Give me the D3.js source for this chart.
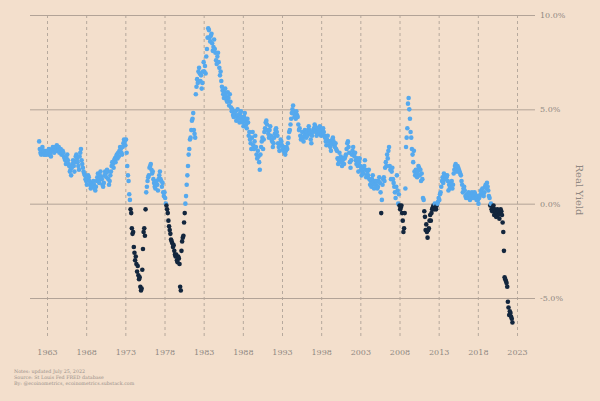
<!DOCTYPE html>
<html><head><meta charset="utf-8">
<script src="https://cdn.jsdelivr.net/npm/d3@7"></script>
<style>body{margin:0;background:#f3dfcc}svg{display:block}</style>
</head><body>
<svg id="c" width="600" height="401"></svg>
<script>
const startYear = 1962;
const monthly = [
"3.3,2.9,2.7,2.6,2.8,3.0,2.7,2.6,2.8,2.6,2.7,2.6",
"2.7,2.8,2.6,2.9,2.7,2.6,2.5,2.8,2.9,3.0,2.8,2.7",
"2.9,3.0,2.8,3.1,2.9,2.8,3.0,2.7,2.8,2.9,2.6,2.7",
"2.8,2.7,2.5,2.4,2.3,2.1,2.4,2.6,2.3,2.1,2.0,1.7",
"1.8,1.5,1.9,2.1,2.3,2.0,1.7,2.2,2.5,2.6,2.4,2.2",
"2.0,1.8,2.5,2.7,2.9,2.3,2.1,1.9,1.7,1.6,1.5,1.3",
"1.2,1.0,1.3,1.5,1.4,1.2,1.0,0.8,0.9,1.1,1.0,1.2",
"1.0,0.8,0.7,0.9,1.2,1.4,1.6,1.3,1.1,1.5,1.7,1.4",
"1.3,1.0,0.9,1.1,1.5,1.7,1.6,1.4,1.8,1.7,1.3,1.0",
"1.2,1.5,1.7,2.0,2.2,2.1,1.9,2.3,2.4,2.2,2.5,2.6",
"2.4,2.7,2.5,2.8,3.0,2.9,2.7,2.6,3.0,3.2,3.4,3.3",
"3.1,3.4,2.7,2.0,1.5,1.2,0.5,0.2,-0.3,-0.5,-1.3,-1.6",
"-1.5,-2.3,-2.6,-3.0,-2.8,-3.2,-3.6,-3.3,-3.8,-4.0,-3.9,-4.4",
"-4.6,-4.5,-3.5,-2.4,-1.5,-1.3,-1.7,-0.3,0.6,0.9,1.2,1.4",
"1.5,1.9,2.0,2.1,1.8,1.6,1.7,1.3,1.1,0.9,0.8,1.0",
"1.2,1.0,0.7,1.3,1.5,1.7,1.3,1.2,0.9,1.1,0.6,0.4",
"0.6,0.3,0.0,-0.1,-0.3,-0.5,-0.9,-1.2,-1.4,-1.6,-1.9,-2.0",
"-2.1,-2.3,-2.2,-2.5,-2.7,-2.8,-2.7,-3.0,-3.1,-2.8,-2.9,-3.2",
"-4.4,-4.6,-2.5,-2.0,-1.8,-1.7,-1.0,-0.5,0.0,0.4,1.0,1.5",
"2.0,2.6,2.9,3.4,3.5,3.9,4.4,4.5,4.8,3.9,3.7,3.5",
"5.8,6.2,6.6,6.4,7.0,7.2,6.9,6.5,6.8,6.1,6.4,7.0",
"7.5,7.0,7.3,6.9,7.8,8.2,8.8,9.3,9.2,8.8,8.6,8.9",
"9.0,8.5,8.1,8.3,8.7,8.2,8.0,7.6,7.4,7.8,8.0,7.5",
"7.2,6.8,7.0,6.5,6.2,6.0,5.8,5.6,5.9,6.1,5.7,5.5",
"5.4,5.9,5.6,5.2,5.8,5.4,5.1,4.9,5.0,4.7,4.6,4.8",
"4.7,4.9,4.4,4.6,5.0,4.7,4.5,4.3,4.8,4.9,4.6,4.4",
"4.3,4.1,4.6,4.8,4.4,4.2,4.0,4.5,4.3,3.6,3.8,3.4",
"3.2,2.9,3.5,3.8,3.1,2.9,3.3,3.6,3.0,2.6,2.4,2.8",
"2.5,2.2,1.8,2.6,3.0,3.3,3.5,2.9,3.4,3.8,4.0,4.3",
"4.4,4.2,3.9,3.7,3.5,3.9,4.1,3.6,3.4,3.3,3.0,3.2",
"3.5,3.7,3.9,4.0,3.8,3.6,3.2,3.0,2.8,3.1,3.4,3.3",
"3.1,2.9,2.8,3.0,2.7,2.6,2.8,3.0,2.9,3.2,3.5,3.8",
"3.9,4.2,4.5,4.8,5.0,5.2,4.9,4.6,4.7,4.5,4.9,4.7",
"4.6,4.2,3.9,4.0,3.6,3.4,3.5,3.8,3.5,3.3,3.6,3.9",
"3.7,3.5,3.8,3.6,3.9,4.1,3.9,3.7,3.4,3.2,3.6,3.8",
"3.9,4.0,4.2,4.1,3.8,3.6,3.9,4.0,3.8,3.7,4.1,3.9",
"3.6,3.7,3.9,4.0,3.8,3.6,3.5,3.3,3.1,3.4,3.6,3.3",
"3.1,3.3,3.0,2.8,3.2,3.4,3.5,3.3,3.1,3.0,3.2,2.9",
"2.8,2.4,2.1,2.3,2.7,2.4,2.5,2.2,2.0,2.3,2.4,2.1",
"2.4,2.5,2.6,2.9,3.2,3.3,3.0,2.7,2.2,1.9,2.3,2.6",
"2.8,3.0,2.6,2.5,2.7,2.3,2.1,2.4,2.0,1.7,2.2,2.4",
"2.0,1.8,1.5,1.7,1.9,1.6,2.0,2.3,1.8,1.4,1.5,1.7",
"1.5,1.8,1.3,1.0,1.2,0.9,1.3,1.5,1.1,0.8,1.0,1.2",
"1.0,1.2,0.8,0.9,1.2,1.4,1.1,0.6,-0.5,0.2,1.0,1.3",
"1.4,1.2,1.9,2.2,2.0,2.6,2.4,2.8,3.0,2.0,1.8,1.3",
"1.7,1.9,1.3,1.1,0.9,0.6,0.3,0.9,1.5,0.7,0.0,0.5",
"-0.1,-0.3,-0.2,-0.1,-0.5,-0.9,-1.5,-1.3,-0.5,0.8,3.0,3.5",
"4.0,5.3,5.6,5.0,4.5,3.8,3.5,2.9,2.6,2.2,2.8,1.7",
"1.5,1.8,1.6,1.4,1.7,2.0,1.9,1.5,1.8,1.2,1.6,1.3",
"0.3,0.2,-0.4,-0.7,-1.4,-1.1,-1.5,-1.8,-1.4,-1.3,-0.9,-0.6",
"-0.9,-0.5,-0.3,-0.2,-0.1,-0.3,0.0,-0.2,-0.3,-0.1,0.0,0.1",
"0.3,0.2,0.5,0.6,0.9,1.2,1.4,1.1,1.6,1.3,1.5,1.3",
"1.4,1.5,1.2,0.7,1.0,0.8,0.9,1.1,1.2,0.8,1.0,1.6",
"1.8,2.0,2.1,1.9,1.7,2.0,1.9,1.8,1.7,1.6,1.5,1.2",
"1.0,0.6,0.8,0.9,0.7,0.4,0.3,0.5,0.4,0.3,0.6,0.5",
"0.2,0.3,0.4,0.6,0.5,0.3,0.4,0.6,0.5,0.3,0.2,0.4",
"0.2,0.0,0.3,0.4,0.5,0.7,0.6,0.8,0.5,0.4,0.6,0.9",
"1.0,0.8,1.1,0.9,0.7,0.4,0.3,-0.1,0.0,-0.3,-0.4,-0.2",
"-0.1,-0.6,-0.3,-0.4,-0.7,-0.5,-0.3,-0.6,-0.4,-0.8,-0.5,-0.3",
"-0.4,-0.6,-1.0,-1.5,-2.5,-3.9,-4.0,-4.1,-4.2,-4.4,-5.2,-5.5",
"-5.9,-5.7,-5.8,-6.0,-6.1,-6.3"
];
const xTickYears = [1963,1968,1973,1978,1983,1988,1993,1998,2003,2008,2013,2018,2023];
const yTicks = [-5,0,5,10];
const notes = ["Notes: updated July 25, 2022","Source: St Louis Fed FRED database","By: @ecoinometrics, ecoinometrics.substack.com"];

const data = [];
monthly.forEach((row,i)=>row.split(",").forEach((v,m)=>data.push({t:startYear+i+m/12, v:+v})));

const svg = d3.select("#c");
const font = "'DejaVu Serif', Georgia, serif";
const x = d3.scaleLinear().domain([1963,2023]).range([47,517]);
const y = d3.scaleLinear().domain([-5,10]).range([298,15]);

const gx = svg.append("g").attr("transform","translate(0,337)")
  .call(d3.axisBottom(x).tickValues(xTickYears).tickFormat(d3.format("d")).tickSize(322).tickPadding(-310));
gx.select(".domain").remove();
gx.selectAll(".tick line").attr("y1",-322).attr("y2",0).attr("stroke","#a69a90").attr("stroke-dasharray","3,3").attr("stroke-width",0.8);
gx.selectAll(".tick text").attr("y",12).attr("fill","#8f8882").attr("font-family",font).attr("font-size",8);

const gy = svg.append("g").attr("transform","translate(535,0)")
  .call(d3.axisRight(y).tickValues(yTicks).tickFormat(d=>d.toFixed(1)+"%").tickSize(0).tickPadding(5));
gy.select(".domain").remove();
gy.selectAll(".tick line").attr("x1",-505).attr("x2",0).attr("stroke","#b2a397").attr("stroke-width",1);
gy.selectAll(".tick text").attr("fill","#8f8882").attr("font-family",font).attr("font-size",8);

svg.append("g").selectAll("circle").data(data).join("circle")
  .attr("cx",d=>x(d.t)).attr("cy",d=>y(d.v)).attr("r",2.3)
  .attr("fill",d=>d.v<0?"#13263d":"#55a9ee");

svg.append("text").attr("transform","translate(576,190) rotate(90)").attr("text-anchor","middle")
  .attr("fill","#8f8882").attr("font-family",font).attr("font-size",10).text("Real Yield");

svg.append("g").selectAll("text").data(notes).join("text")
  .attr("x",14).attr("y",(d,i)=>373+i*6).attr("fill","#9a918a").attr("font-family",font).attr("font-size",4.8).text(d=>d);
</script></body></html>
